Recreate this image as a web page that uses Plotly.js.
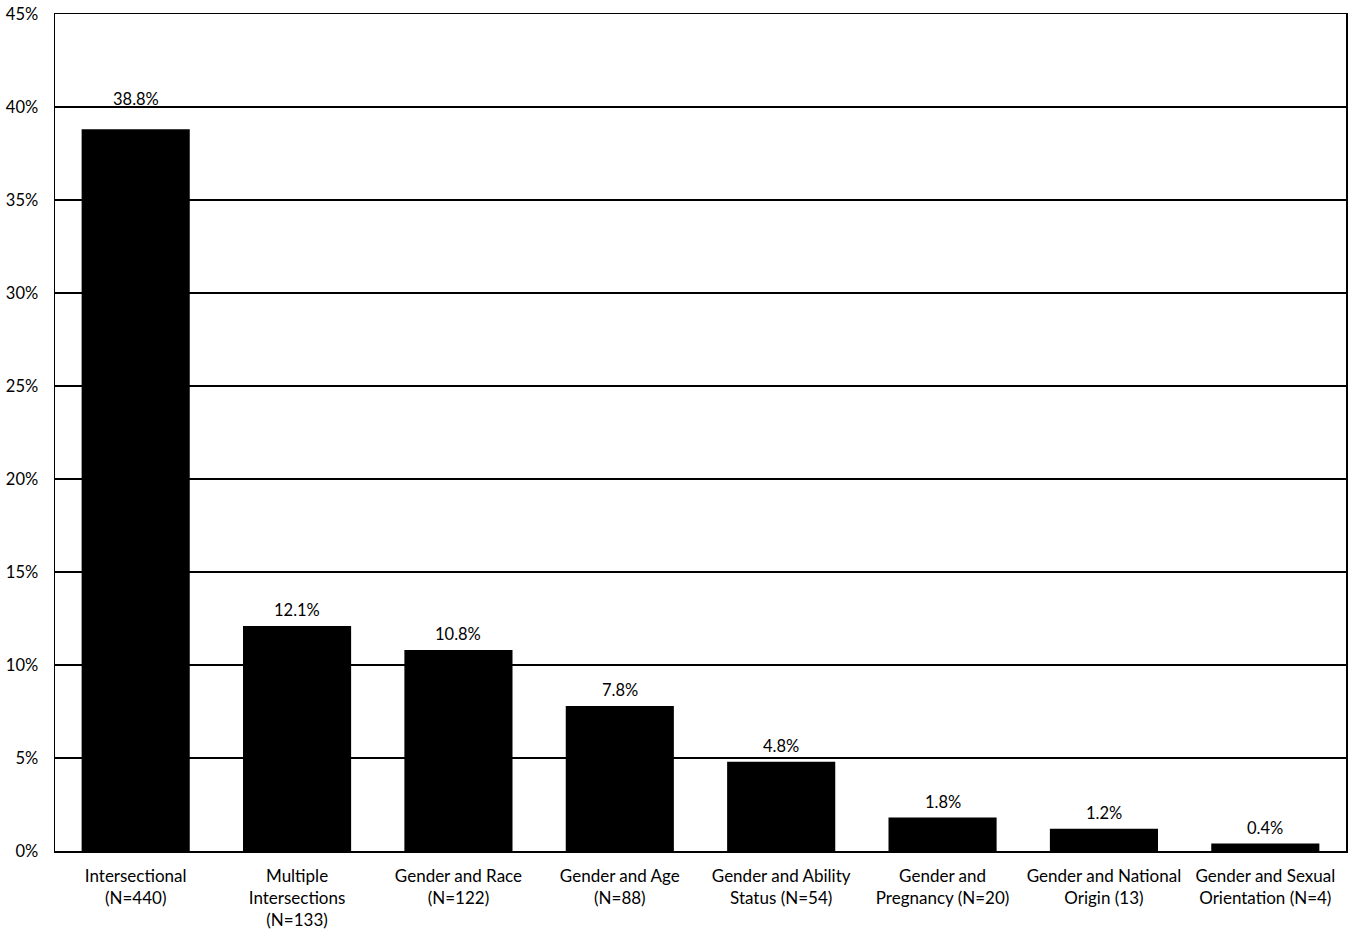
<!DOCTYPE html>
<html><head><meta charset="utf-8">
<script src="https://cdn.plot.ly/plotly-3.0.1.min.js"></script>
<style>html,body{margin:0;padding:0;background:#fff}#chart{width:1353px;height:936px}</style>
</head><body><div id="chart"></div>
<script>
const categories = ["Intersectional<br>(N=440)", "Multiple<br>Intersections<br>(N=133)", "Gender and Race<br>(N=122)", "Gender and Age<br>(N=88)", "Gender and Ability<br>Status (N=54)", "Gender and<br>Pregnancy (N=20)", "Gender and National<br>Origin (13)", "Gender and Sexual<br>Orientation (N=4)"];
const values = [38.8, 12.1, 10.8, 7.8, 4.8, 1.8, 1.2, 0.4];
const tickVals = [0, 5, 10, 15, 20, 25, 30, 35, 40, 45];
const tickText = ["0%", "5%", "10%", "15%", "20%", "25%", "30%", "35%", "40%", "45%"];

const FONT = "Lato, 'Open Sans', sans-serif";
const annotations = categories.map((c, i) => ({
  x: c, y: values[i], xref: "x", yref: "y",
  text: values[i].toFixed(1) + "%",
  showarrow: false, yanchor: "bottom",
  yshift: i === 0 ? 18 : 4,
  font: {family: FONT, size: 16.5, color: "#000"}
}));
Plotly.newPlot("chart", [{
  type: "bar",
  x: categories,
  y: values,
  marker: {color: "#000000"},
  hoverinfo: "none"
}], {
  width: 1353, height: 936,
  margin: {l: 55, r: 7, t: 14, b: 85},
  paper_bgcolor: "#fff", plot_bgcolor: "#fff",
  bargap: 0.33,
  showlegend: false,
  annotations: annotations,
  font: {family: FONT, size: 17, color: "#000"},
  xaxis: {
    showline: true, linecolor: "#000", linewidth: 1.5, mirror: true,
    ticks: "", tickfont: {family: FONT, size: 17, color: "#000"},
    ticklabelstandoff: 9,
    automargin: false
  },
  yaxis: {
    range: [0, 45], tickvals: tickVals, ticktext: tickText,
    showgrid: true, gridcolor: "#000", gridwidth: 1.3,
    showline: true, linecolor: "#000", linewidth: 1.5, mirror: true,
    zeroline: false, ticks: "", ticklen: 0,
    ticklabelstandoff: 12,
    tickfont: {family: FONT, size: 16.5, color: "#000"},
    automargin: false
  }
}, {displayModeBar: false, staticPlot: true});
</script></body></html>
